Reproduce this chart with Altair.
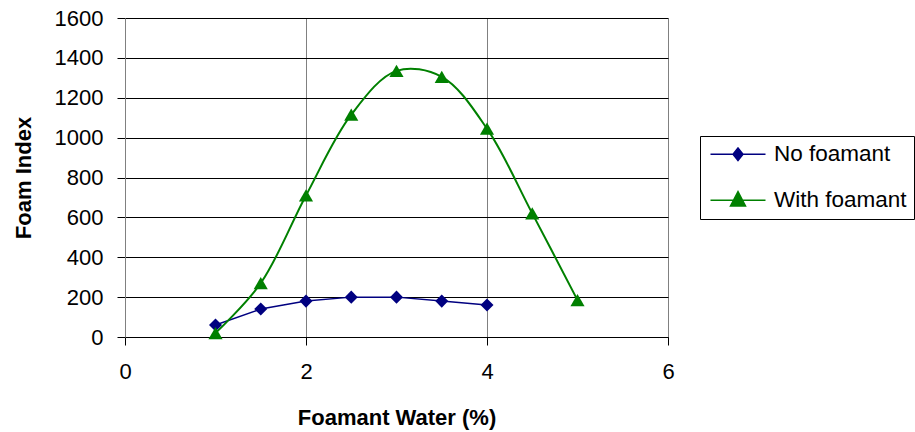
import altair as alt
import pandas as pd

# ---- data ----
x_no = [1, 1.5, 2, 2.5, 3, 3.5, 4]
y_no = [60, 140, 180, 200, 200, 180, 160]
x_with = [1, 1.5, 2, 2.5, 3, 3.5, 4, 4.5, 5]
y_with = [20, 270, 710, 1115, 1335, 1305, 1045, 620, 185]
series_names = ["No foamant", "With foamant"]
series_colors = ["#000080", "#008000"]
x_ticks = [0, 2, 4, 6]
y_ticks = [0, 200, 400, 600, 800, 1000, 1200, 1400, 1600]

df = pd.DataFrame(
    {
        "x": x_no + x_with,
        "y": y_no + y_with,
        "series": [series_names[0]] * len(x_no) + [series_names[1]] * len(x_with),
    }
)

FONT = "Liberation Sans"

x_enc = alt.X(
    "x:Q",
    scale=alt.Scale(domain=[0, 6], nice=False, zero=False),
    axis=alt.Axis(
        values=x_ticks,
        tickCount=len(x_ticks),
        format="d",
        labelOverlap=False,
        title="Foamant Water (%)",
        grid=True,
        gridColor="#808080",
        gridOpacity=1,
        gridWidth=1,
        domainColor="#000000",
        domainWidth=1,
        tickColor="#000000",
        tickSize=8,
        labelFont=FONT,
        labelFontSize=22,
        labelColor="#000000",
        labelPadding=16,
        labelFlush=False,
        titleFont=FONT,
        titleFontSize=22,
        titleFontWeight="bold",
        titleColor="#000000",
        titleBaseline="alphabetic",
        titleAlign="center",
        titleX=271.5,
        titleY=87,
    ),
)
y_enc = alt.Y(
    "y:Q",
    scale=alt.Scale(domain=[0, 1600], nice=False),
    axis=alt.Axis(
        values=y_ticks,
        tickCount=len(y_ticks),
        format="d",
        labelOverlap=False,
        title="Foam Index",
        grid=True,
        gridColor="#000000",
        gridOpacity=1,
        gridWidth=1,
        domainColor="#808080",
        domainWidth=1,
        tickColor="#000000",
        tickSize=8,
        labelFont=FONT,
        labelFontSize=22,
        labelColor="#000000",
        labelPadding=14,
        labelFlush=False,
        titleFont=FONT,
        titleFontSize=22,
        titleFontWeight="bold",
        titleColor="#000000",
        titleAngle=270,
        titleBaseline="alphabetic",
        titleAlign="center",
        titleX=-95,
        titleY=159.5,
    ),
)

base = alt.Chart(df)

line_no = (
    base.transform_filter(alt.datum.series == series_names[0])
    .mark_line(color=series_colors[0], strokeWidth=1.5)
    .encode(x=x_enc, y=y_enc)
)
line_with = (
    base.transform_filter(alt.datum.series == series_names[1])
    .mark_line(color=series_colors[1], strokeWidth=2, interpolate="catmull-rom")
    .encode(x="x:Q", y="y:Q")
)
pts_no = (
    base.transform_filter(alt.datum.series == series_names[0])
    .mark_point(shape="diamond", filled=True, color=series_colors[0], size=170, opacity=1)
    .encode(x="x:Q", y="y:Q")
)
pts_with = (
    base.transform_filter(alt.datum.series == series_names[1])
    .mark_point(shape="triangle-up", filled=True, color=series_colors[1], size=200, opacity=1)
    .encode(x="x:Q", y="y:Q")
)

# legend symbols: line segment with the marker in its middle
legend_paths = [
    "M-0.775,0H4.725M1.975,-0.63L2.475,0L1.975,0.63L1.475,0Z",
    "M-0.775,0H4.725M1.975,-0.86L2.725,0.57L1.225,0.57Z",
]
leg = alt.Legend(
    title=None,
    orient="none",
    legendX=575,
    legendY=118,
    strokeColor="#000000",
    fillColor="#ffffff",
    padding=7,
    cornerRadius=0,
    rowPadding=22,
    symbolSize=400,
    symbolStrokeWidth=1.5,
    symbolOpacity=1,
    labelFont=FONT,
    labelFontSize=22.5,
    labelColor="#000000",
    labelOffset=44.5,
    labelLimit=400,
)
legend_layer = base.mark_point(filled=True, opacity=0, size=1).encode(
    x="x:Q",
    y="y:Q",
    fill=alt.Fill("series:N", scale=alt.Scale(domain=series_names, range=series_colors), legend=leg),
    stroke=alt.Stroke("series:N", scale=alt.Scale(domain=series_names, range=series_colors), legend=leg),
    shape=alt.Shape("series:N", scale=alt.Scale(domain=series_names, range=legend_paths), legend=leg),
)

chart = (
    alt.layer(line_no, line_with, pts_no, pts_with, legend_layer)
    .properties(
        width=543,
        height=319,
        autosize=alt.AutoSizeParams(type="none"),
        padding={"left": 125, "top": 18, "right": 247, "bottom": 95},
        background="#ffffff",
    )
    .configure_view(stroke=None)
)

chart.save("out.html", embed_options={"renderer": "svg", "actions": False})
